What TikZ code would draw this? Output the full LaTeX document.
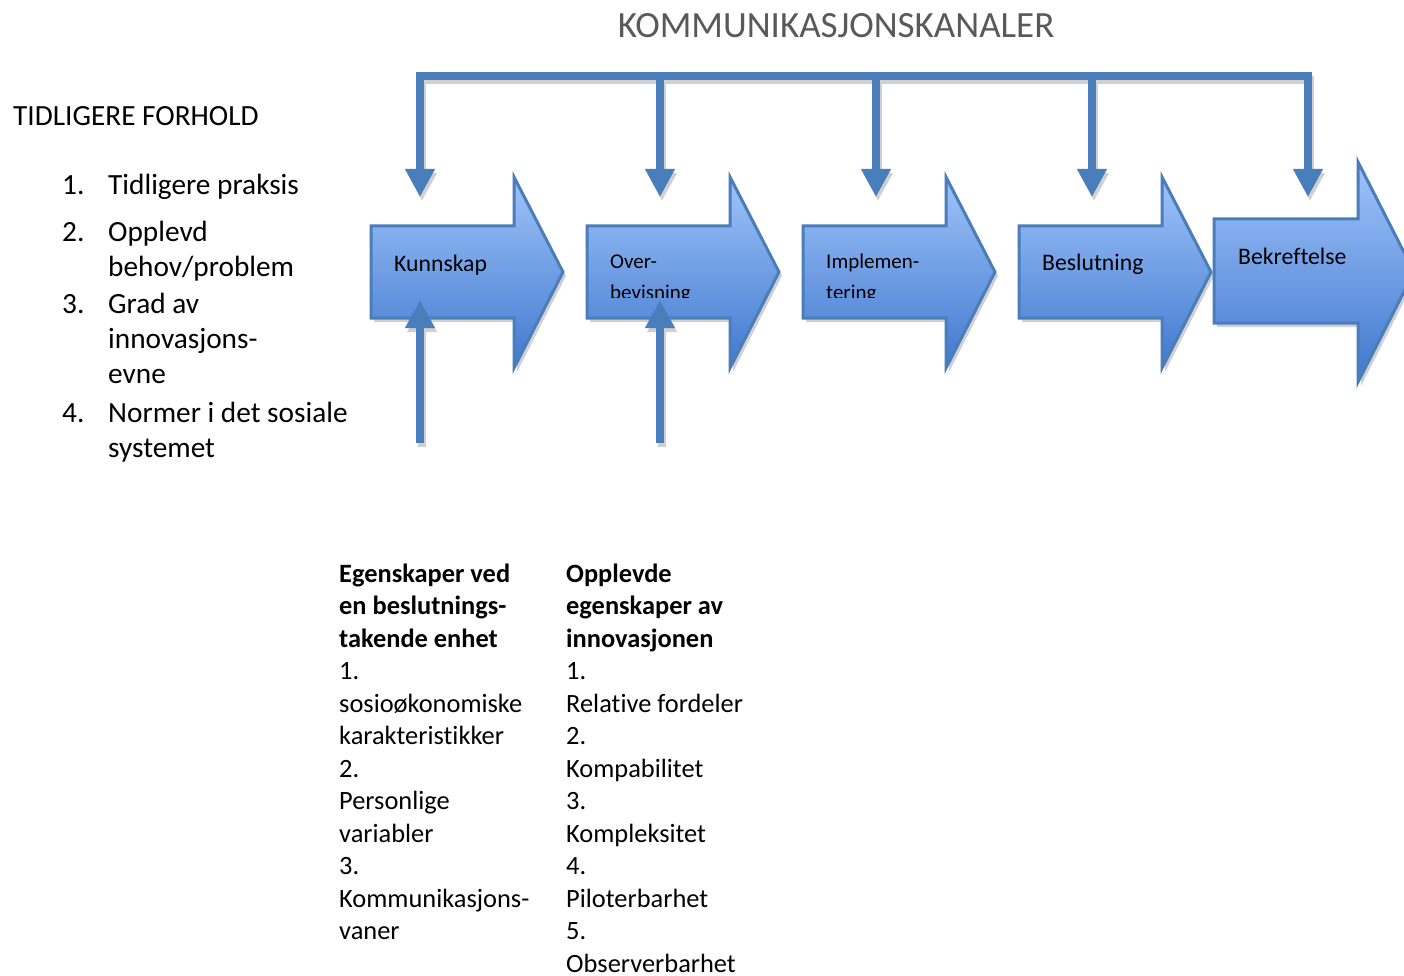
\documentclass[tikz,border=0pt]{standalone}
\usepackage{fontspec}
\setmainfont{Carlito}[Ligatures={NoCommon}]
\usetikzlibrary{arrows.meta, shadows}

\definecolor{chanblue}{RGB}{74,126,187}
\definecolor{stagetop}{RGB}{160,196,250}
\definecolor{stagebot}{RGB}{64,120,206}
\definecolor{titlegray}{RGB}{89,89,89}
\definecolor{shadegray}{RGB}{208,208,208}

\begin{document}
\begin{tikzpicture}[x=1pt, y=-1pt, >={Triangle[width=28pt,length=28pt]},
  stage/.style={draw=chanblue, line width=3pt, line join=miter, top color=stagetop, bottom color=stagebot,
    drop shadow={shadow xshift=3pt, shadow yshift=-4pt, fill=shadegray, opacity=1}},
  channel/.style={chanblue, line width=8pt, ->},
  channelbar/.style={chanblue, line width=8pt, line cap=rect},
  lagshadow/.style={shadegray, transform canvas={shift={(2pt,-4pt)}}},
  stagelab/.style={anchor=base west, inner sep=0pt, font=\fontsize{23.7}{29}\selectfont},
  smalllab/.style={anchor=base west, inner sep=0pt, font=\fontsize{21}{26}\selectfont},
  listtxt/.style={anchor=base west, inner sep=0pt, font=\fontsize{29.3}{36}\selectfont},
  coltxt/.style={anchor=base west, inner sep=0pt, font=\fontsize{26.4}{32.5}\selectfont},
  colhead/.style={coltxt, font=\fontsize{26.4}{32.5}\selectfont\bfseries}]
  \useasboundingbox (0,0) rectangle (1404,976);

  % Title
  \node[anchor=base, inner sep=0pt, text=titlegray, font=\fontsize{37}{44}\selectfont] (kanaler) at (836,38) {KOMMUNIKASJONSKANALER};

  % Stages
  \foreach \x in {371, 587, 803, 1019}
    \draw[stage] (\x,226) -- ++(143,0) -- ++(0,-49) -- ++(49,95) -- ++(-49,96) -- ++(0,-50) -- ++(-143,0) -- cycle;
  \draw[stage] (1214,219) -- (1358,219) -- (1358,162) -- (1414,272) -- (1358,382) -- (1358,323) -- (1214,323) -- cycle;

  \node[stagelab] (lab-kun) at (394,271) {Kunnskap};
  \node[stagelab] (lab-bes) at (1042,270) {Beslutning};
  \node[stagelab] (lab-bek) at (1238,265) {Bekreftelse};
  \begin{scope}
    \clip (587,226) rectangle (1000,297);
    \node[smalllab] (lab-ove) at (610,269) {Over-};
    \node[smalllab] (lab-ove2) at (610,299) {bevisning};
    \node[smalllab] (lab-imp) at (826,268) {Implemen-};
    \node[smalllab] (lab-imp2) at (826,299) {tering};
  \end{scope}

  % Channels
  \coordinate (top-kun) at (420,76);
  \coordinate (top-bek) at (1308,76);
  \foreach \n/\x in {kun/420, ove/660, imp/876, bes/1092, bek/1308}{
    \coordinate (top-\n) at (\x,76);
    \coordinate (in-\n) at (\x,197);
  }
  \foreach \n/\x in {kun/420, ove/660}{
    \coordinate (foot-\n) at (\x,443);
    \coordinate (up-\n) at (\x,300);
  }
  \draw[channelbar, lagshadow] (top-kun) -- (top-bek);
  \foreach \n in {kun, ove, imp, bes, bek}
    \draw[channel, lagshadow] (top-\n) -- (in-\n);
  \foreach \n in {kun, ove}
    \draw[channel, lagshadow] (foot-\n) -- (up-\n);
  \draw[channelbar] (top-kun) -- (top-bek);
  \foreach \n in {kun, ove, imp, bes, bek}
    \draw[channel] (top-\n) -- (in-\n);
  \foreach \n in {kun, ove}
    \draw[channel] (foot-\n) -- (up-\n);

  % Earlier conditions
  \node[listtxt] (forhold) at (13,126) {TIDLIGERE FORHOLD};
  \foreach \nr/\y in {1/195, 2/241, 3/313, 4/422}
    \node[listtxt] (nr-\nr) at (62,\y) {\nr.};
  \foreach \t/\y [count=\i] in {Tidligere praksis/195, Opplevd/241, behov\slash problem/276,
      Grad av/313, innovasjons-/348, evne/383, Normer i det sosiale/422, systemet/457}
    \node[listtxt] (pkt-\i) at (108,\y) {\t};

  % Decision unit
  \foreach \t [count=\i from 0] in {Egenskaper ved, en beslutnings-, takende enhet}
    \node[colhead] (enhet-\i) at (339,{582+32.5*\i}) {\t};
  \foreach \t [count=\i from 3] in {1., sosioøkonomiske, karakteristikker, 2., Personlige, variabler, 3., Kommunikasjons-, vaner}
    \node[coltxt] (enhet-\i) at (339,{582+32.5*\i}) {\t};

  % Perceived characteristics
  \foreach \t [count=\i from 0] in {Opplevde, egenskaper av, innovasjonen}
    \node[colhead] (innov-\i) at (566,{582+32.5*\i}) {\t};
  \foreach \t [count=\i from 3] in {1., Relative fordeler, 2., Kompabilitet, 3., Kompleksitet, 4., Piloterbarhet, 5., Observerbarhet}
    \node[coltxt] (innov-\i) at (566,{582+32.5*\i}) {\t};
\end{tikzpicture}
\end{document}
